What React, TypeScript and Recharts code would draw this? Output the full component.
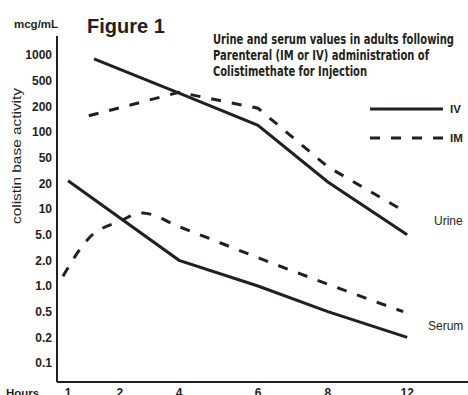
import React from 'react';
import { LineChart, Line, XAxis, YAxis } from 'recharts';

// tick labels as printed on the figure
const hourLabels = [1, 2, 4, 6, 8, 12];
const concTicks = [0.1, 0.2, 0.5, 1, 2, 5, 10, 20, 50, 100, 200, 500, 1000];
const concLabels = ['0.1', '0.2', '0.5', '1.0', '2.0', '5.0', '10', '20', '50', '100', '200', '500', '1000'];

// series (hours, mcg/mL)
const ivUrineHours = [1.5, 4, 6, 8, 12];
const ivUrine = [900, 320, 120, 21, 5];
const imUrineHours = [1.4, 4, 6, 8, 12];
const imUrine = [155, 330, 190, 36, 9];
const ivSerumHours = [1, 4, 6, 8, 12];
const ivSerum = [22, 2.0, 1.0, 0.5, 0.2];
const imSerumHours = [0.9, 1.4, 2, 2.75, 4, 6, 8, 11.8];
const imSerum = [1.3, 4.4, 7.2, 9, 6.2, 2.2, 1.05, 0.5];

// the hour axis of the original is hand spaced, so ticks sit at these slots (axis runs 0..10)
const hourSlots = [0.27, 1.53, 2.97, 4.89, 6.59, 8.52];

const INK = '#231f20';
const FONT = "'Liberation Sans', Arial, Helvetica, sans-serif";
const NARROW = "'Liberation Sans Narrow', 'Arial Narrow', 'DejaVu Sans Condensed', 'Liberation Sans', sans-serif";

function hourPos(h: number) {
  let i = 0;
  while (i < hourLabels.length - 2 && h > hourLabels[i + 1]) i++;
  const t = (h - hourLabels[i]) / (hourLabels[i + 1] - hourLabels[i]);
  return hourSlots[i] + t * (hourSlots[i + 1] - hourSlots[i]);
}

// the value axis has evenly spaced 1-2-5 steps
function concLevel(v: number) {
  let i = 0;
  while (i < concTicks.length - 2 && v > concTicks[i + 1]) i++;
  const t = Math.log(v / concTicks[i]) / Math.log(concTicks[i + 1] / concTicks[i]);
  return i + t;
}

const toPoints = (hours: number[], vals: number[]) =>
  hours.map((h, i) => ({ x: hourPos(h), y: concLevel(vals[i]) }));

const ivUrineData = toPoints(ivUrineHours, ivUrine);
const imUrineData = toPoints(imUrineHours, imUrine);
const ivSerumData = toPoints(ivSerumHours, ivSerum);
const imSerumData = toPoints(imSerumHours, imSerum);

const tickStyle = { fill: INK, fontFamily: FONT, fontSize: 12, fontWeight: 700 };
const DASH = '10 11';

export default function App() {
  return (
    <div style={{ position: 'absolute', left: 0, top: 0, width: 468, height: 395, background: '#fff' }}>
      <LineChart width={468} height={395} margin={{ top: 36, right: 0, bottom: 0, left: 0 }}>
        <XAxis
          type="number"
          dataKey="x"
          domain={[0, 10]}
          ticks={hourSlots}
          tickFormatter={(v: number) => String(hourLabels[hourSlots.indexOf(v)])}
          height={13}
          axisLine={{ stroke: INK, strokeWidth: 2 }}
          tickLine={false}
          tickSize={0}
          tickMargin={6}
          tick={tickStyle}
          interval={0}
        />
        <YAxis
          type="number"
          dataKey="y"
          domain={[-0.74, 12.74]}
          ticks={concTicks.map((_, i) => i)}
          tickFormatter={(v: number) => concLabels[v]}
          width={57}
          axisLine={{ stroke: INK, strokeWidth: 2 }}
          tickLine={false}
          tickSize={0}
          tickMargin={5}
          tick={tickStyle}
          interval={0}
        />
        <Line data={ivUrineData} dataKey="y" type="linear" stroke={INK} strokeWidth={3} dot={false} isAnimationActive={false} />
        <Line data={imUrineData} dataKey="y" type="linear" stroke={INK} strokeWidth={3} strokeDasharray={DASH} dot={false} isAnimationActive={false} />
        <Line data={ivSerumData} dataKey="y" type="linear" stroke={INK} strokeWidth={3} dot={false} isAnimationActive={false} />
        <Line data={imSerumData} dataKey="y" type="monotone" stroke={INK} strokeWidth={3} strokeDasharray={DASH} dot={false} isAnimationActive={false} />
      </LineChart>

      {/* annotations */}
      <svg width={468} height={395} style={{ position: 'absolute', left: 0, top: 0, pointerEvents: 'none' }}>
        <g fill={INK} fontFamily={FONT}>
          <text x={14} y={28} fontSize={11.5} fontWeight={700}>mcg/mL</text>
          <text x={87} y={33} fontSize={20} fontWeight={700}>Figure 1</text>
          <g fontFamily={NARROW} fontSize={14} fontWeight={700}>
            <text x={213} y={43.5} textLength={241} lengthAdjust="spacingAndGlyphs">Urine and serum values in adults following</text>
            <text x={213} y={59.5} textLength={216} lengthAdjust="spacingAndGlyphs">Parenteral (IM or IV) administration of</text>
            <text x={213} y={76} textLength={154} lengthAdjust="spacingAndGlyphs">Colistimethate for Injection</text>
          </g>
          <line x1={370} x2={443} y1={109} y2={109} stroke={INK} strokeWidth={3} />
          <text x={450} y={113} fontSize={11.5} fontWeight={700}>IV</text>
          <line x1={370} x2={443} y1={138} y2={138} stroke={INK} strokeWidth={3} strokeDasharray={DASH} />
          <text x={450} y={142} fontSize={11.5} fontWeight={700}>IM</text>
          <text x={434} y={225} fontSize={12}>Urine</text>
          <text x={428} y={330} fontSize={12}>Serum</text>
          <text x={6} y={396.5} fontSize={11.5} fontWeight={700}>Hours</text>
          <text
            x={17}
            y={156}
            fontSize={12.5}
            textAnchor="middle"
            dominantBaseline="central"
            textLength={136}
            lengthAdjust="spacingAndGlyphs"
            transform="rotate(-90 17 156)"
          >
            colistin base activity
          </text>
        </g>
      </svg>
    </div>
  );
}
